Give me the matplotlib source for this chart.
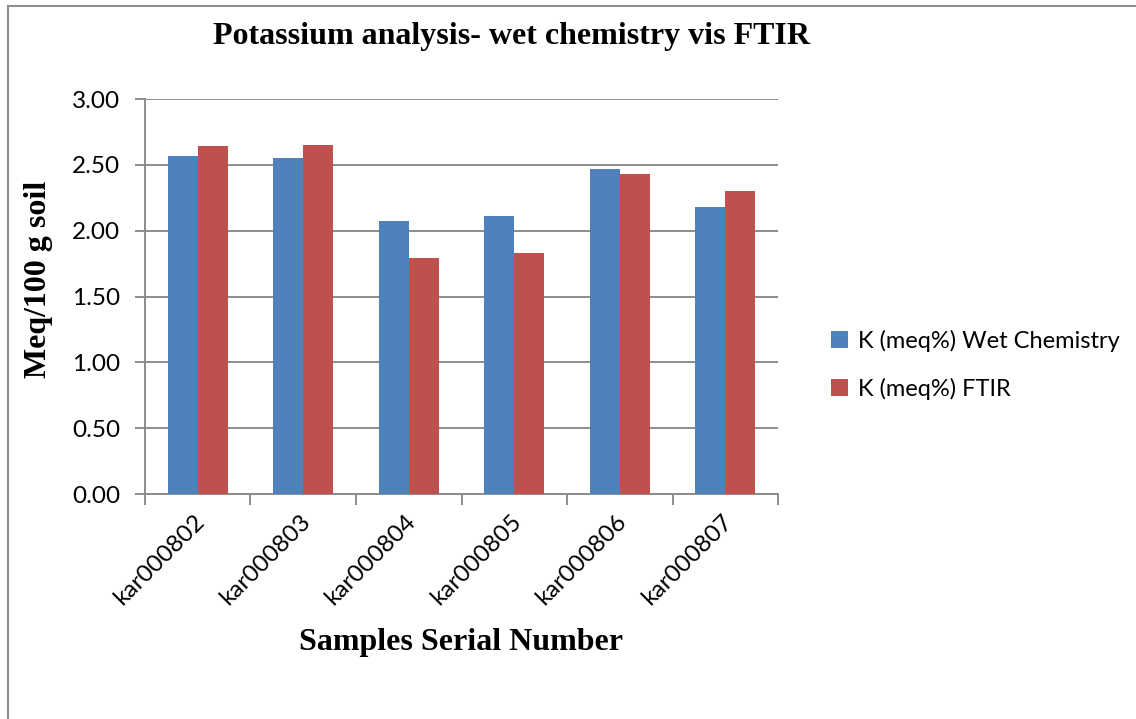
import numpy as np
import matplotlib
matplotlib.use("Agg")
import matplotlib.pyplot as plt
import matplotlib.transforms as mtransforms
from matplotlib.lines import Line2D

samples = ["kar000802", "kar000803", "kar000804", "kar000805", "kar000806", "kar000807"]
wet_chem = [2.57, 2.55, 2.07, 2.11, 2.47, 2.18]
ftir = [2.64, 2.65, 1.79, 1.83, 2.43, 2.30]
series_names = ["K (meq%) Wet Chemistry", "K (meq%) FTIR"]
y_ticks = [0.0, 0.5, 1.0, 1.5, 2.0, 2.5, 3.0]

blue = "#4F81BD"
red = "#C0504D"
grid_grey = "#8C8C8C"

fig = plt.figure(figsize=(11.36, 7.19), dpi=100)
ax = fig.add_axes([0.1276, 0.3129, 0.5573, 0.5494])

x = np.arange(len(samples))
w = 0.285
ax.bar(x - w / 2, wet_chem, w, color=blue, label=series_names[0], zorder=3)
ax.bar(x + w / 2, ftir, w, color=red, label=series_names[1], zorder=3)

ax.set_xlim(-0.5, len(samples) - 0.5)
ax.set_ylim(0, 3.0)
ax.set_yticks(y_ticks)
ax.set_yticklabels([f"{v:.2f}" for v in y_ticks], fontfamily="Lato", fontsize=17.5)
ax.grid(axis="y", color=grid_grey, linewidth=1.4, zorder=0)
ax.tick_params(axis="y", direction="out", length=7, width=1.4, color=grid_grey, pad=11)

# labels on categories, tick marks on boundaries
ax.set_xticks(x)
ax.set_xticklabels(samples, rotation=45, ha="right", rotation_mode="anchor",
                   fontfamily="Lato", fontsize=17.5)
ax.tick_params(axis="x", which="major", length=0, pad=10)
shift = mtransforms.ScaledTranslation(-4 / 100, -3 / 100, fig.dpi_scale_trans)
for lab in ax.get_xticklabels():
    lab.set_transform(lab.get_transform() + shift)
ax.set_xticks(np.arange(-0.5, len(samples)), minor=True)
ax.tick_params(axis="x", which="minor", direction="out", length=8, width=1.4, color=grid_grey)

for side in ["top", "right"]:
    ax.spines[side].set_visible(False)
for side in ["left", "bottom"]:
    ax.spines[side].set_color(grid_grey)
    ax.spines[side].set_linewidth(1.4)

fig.text(0.45, 0.949, "Potassium analysis- wet chemistry vis FTIR", ha="center", va="center",
         fontfamily="Liberation Serif", fontweight="bold", fontsize=23)
fig.text(0.034, 0.612, "Meq/100 g soil", rotation=90, ha="center", va="center",
         fontfamily="Liberation Serif", fontweight="bold", fontsize=23)
fig.text(0.406, 0.107, "Samples Serial Number", ha="center", va="center",
         fontfamily="Liberation Serif", fontweight="bold", fontsize=23)

leg = fig.legend(loc="center left", bbox_to_anchor=(0.713, 0.493), frameon=False,
                 prop={"family": "Lato", "size": 17}, handlelength=0.72, handleheight=0.72,
                 handletextpad=0.4, labelspacing=1.1)

# chart border (left and top visible)
fig.add_artist(Line2D([0.007, 0.007], [0.0, 0.992], color="#8C8C8C", linewidth=1.5))
fig.add_artist(Line2D([0.007, 1.0], [0.992, 0.992], color="#8C8C8C", linewidth=1.5))

fig.savefig("out.png", dpi=100)
